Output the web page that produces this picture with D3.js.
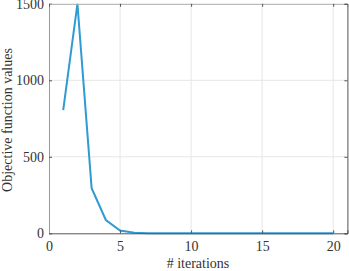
<!DOCTYPE html>
<html><head><meta charset="utf-8">
<script src="https://cdn.jsdelivr.net/npm/d3@7"></script>
<style>body{margin:0;background:#fff}svg{display:block}svg text{font-family:"Liberation Serif","Times New Roman",Tinos,"DejaVu Serif",serif !important}</style>
</head><body><svg id="c" width="349" height="271"></svg>
<script>
const iterations = [1,2,3,4,5,6,7,8,9,10,11,12,13,14,15,16,17,18,19,20];
const objValues = [805,1500,295,87,18,4,1,0.5,0.2,0.1,0.1,0.1,0.1,0.1,0.1,0.1,0.1,0.1,0.1,0.1];
const xTicks = [0,5,10,15,20];
const yTicks = [0,500,1000,1500];

const svg = d3.select("#c");
const L=49, R=347.4, T=3.8, B=233.3;
const x = d3.scaleLinear().domain([0,21]).range([L,R]);
const y = d3.scaleLinear().domain([0,1500]).range([B,T]);

// grid
svg.append("g").selectAll("line").data(xTicks.filter(d=>d>0)).join("line")
  .attr("x1",d=>x(d)).attr("x2",d=>x(d)).attr("y1",T).attr("y2",B)
  .attr("stroke","#e6e6e6").attr("stroke-width",1);
svg.append("g").selectAll("line").data(yTicks.filter(d=>d>0&&d<1500)).join("line")
  .attr("x1",L).attr("x2",R).attr("y1",d=>y(d)).attr("y2",d=>y(d))
  .attr("stroke","#e6e6e6").attr("stroke-width",1);

// line
svg.append("path").datum(iterations.map((d,i)=>[d,objValues[i]]))
  .attr("fill","none").attr("stroke","#2f9bd3").attr("stroke-width",2)
  .attr("d",d3.line().x(d=>x(d[0])).y(d=>y(d[1])));

// axes
const fmt = d3.format("d");
const xa = svg.append("g").attr("transform",`translate(0,${B})`)
  .call(d3.axisBottom(x).tickValues(xTicks).tickSize(-3).tickPadding(8).tickFormat(fmt));
const ya = svg.append("g").attr("transform",`translate(${L},0)`)
  .call(d3.axisLeft(y).tickValues(yTicks).tickSize(-3).tickPadding(5).tickFormat(fmt));
const xt = svg.append("g").attr("transform",`translate(0,${T})`)
  .call(d3.axisTop(x).tickValues(xTicks).tickSize(-3).tickFormat(""));
const yr = svg.append("g").attr("transform",`translate(${R},0)`)
  .call(d3.axisRight(y).tickValues(yTicks).tickSize(-3).tickFormat(""));
[xa,ya,xt,yr].forEach(g=>{
  g.attr("font-family",null);
  g.select(".domain").attr("stroke","#555").attr("stroke-width",1);
  g.selectAll(".tick line").attr("stroke","#555");
  g.selectAll("text").attr("fill","#333").style("font-size","14px");
});
xt.select(".domain").attr("stroke","#aaa");
ya.select(".domain").attr("stroke","#999");

svg.append("text").attr("x",198).attr("y",268).attr("text-anchor","middle")
  .attr("fill","#333").style("font-size","14px").text("# iterations");
svg.append("text").attr("transform",`translate(11.5,120) rotate(-90)`).attr("text-anchor","middle")
  .attr("fill","#333").style("font-size","14px").text("Objective function values");
</script></body></html>
